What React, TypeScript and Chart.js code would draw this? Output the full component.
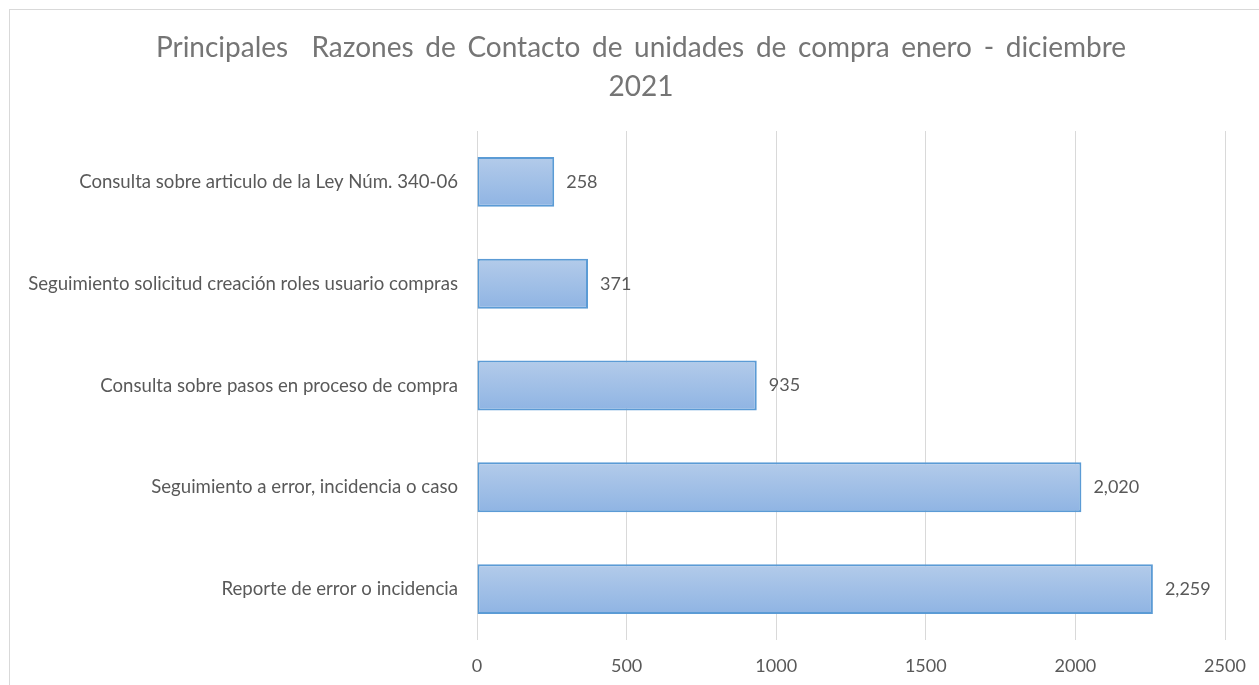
import React, { useEffect, useRef } from "react";
import { Chart, registerables } from "chart.js";

Chart.register(...registerables);

const categories = [
  "Consulta sobre articulo de la Ley Núm. 340-06",
  "Seguimiento solicitud creación roles usuario compras",
  "Consulta sobre pasos en proceso de compra",
  "Seguimiento a error, incidencia o caso",
  "Reporte de error o incidencia",
];
const values = [258, 371, 935, 2020, 2259];
const titleLines = [
  "Principales  Razones de Contacto de unidades de compra enero - diciembre",
  "2021",
];
const xMin = 0;
const xMax = 2500;
const xStep = 500;

const FONT = "Lato, 'Noto Sans', sans-serif";
const BAR_PCT = 0.49;
const TITLE_SIZE = 28;
const TITLE_LH = 39.2;
const TITLE_PAD_TOP = 18;

const valueLabels = {
  id: "valueLabels",
  afterDatasetsDraw(chart: any) {
    const { ctx } = chart;
    const meta = chart.getDatasetMeta(0);
    ctx.save();
    ctx.font = `18px ${FONT}`;
    ctx.fillStyle = "#595959";
    ctx.textAlign = "left";
    ctx.textBaseline = "middle";
    meta.data.forEach((el: any, i: number) => {
      ctx.fillText(values[i].toLocaleString("en-US"), el.x + 12, el.y);
    });
    ctx.restore();
  },
};

const spacedTitle = {
  id: "spacedTitle",
  afterDraw(chart: any) {
    const { ctx } = chart;
    ctx.save();
    ctx.font = `${TITLE_SIZE}px ${FONT}`;
    ctx.fillStyle = "#757575";
    ctx.textAlign = "center";
    ctx.textBaseline = "middle";
    (ctx as any).wordSpacing = "4.5px";
    titleLines.forEach((line, i) => {
      ctx.fillText(line, chart.width / 2, TITLE_PAD_TOP + TITLE_LH * (i + 0.5));
    });
    ctx.restore();
  },
};

export default function App() {
  const ref = useRef<HTMLCanvasElement | null>(null);
  useEffect(() => {
    if (!ref.current) return;
    const chart = new Chart(ref.current, {
      type: "bar",
      data: {
        labels: categories,
        datasets: [
          {
            data: values,
            backgroundColor: (c: any) => {
              const ch = c.chart;
              const y = ch.scales && ch.scales.y;
              if (!ch.chartArea || !y || c.dataIndex === undefined) return "#a0bfe7";
              const band = (y.bottom - y.top) / categories.length;
              const cy = y.getPixelForValue(c.dataIndex);
              const h = (band * BAR_PCT) / 2;
              const g = ch.ctx.createLinearGradient(0, cy - h, 0, cy + h);
              g.addColorStop(0, "#b3cbea");
              g.addColorStop(1, "#8fb4e3");
              return g;
            },
            borderColor: "#5b9bd5",
            borderWidth: 2,
            borderSkipped: false,
            categoryPercentage: 1,
            barPercentage: BAR_PCT,
          },
        ],
      },
      options: {
        indexAxis: "y",
        animation: false,
        responsive: false,
        maintainAspectRatio: false,
        layout: { padding: { left: 0, right: 47, top: 0, bottom: 0 } },
        plugins: {
          legend: { display: false },
          tooltip: { enabled: false },
          title: {
            display: true,
            text: titleLines,
            color: "rgba(0,0,0,0)",
            font: { family: FONT, size: TITLE_SIZE, weight: "normal", lineHeight: `${TITLE_LH}px` },
            padding: { top: TITLE_PAD_TOP, bottom: 24.6 },
          },
        },
        scales: {
          x: {
            min: xMin,
            max: xMax,
            ticks: {
              stepSize: xStep,
              color: "#595959",
              font: { family: FONT, size: 18 },
              padding: 15,
              callback: (v: any) => String(v),
            },
            grid: { color: "#d9d9d9", lineWidth: 1, drawTicks: false },
            border: { display: false },
            afterFit: (s: any) => {
              s.height = 46;
            },
          },
          y: {
            ticks: {
              color: "#595959",
              font: { family: FONT, size: 18.6 },
              padding: 19,
            },
            grid: { display: false, drawTicks: false },
            border: { display: false },
            afterFit: (s: any) => {
              s.width = 467;
            },
          },
        },
      },
      plugins: [valueLabels, spacedTitle],
    });
    return () => chart.destroy();
  }, []);
  return (
    <div style={{ position: "fixed", inset: 0, overflow: "hidden", background: "#fff" }}>
      <div
        style={{
          position: "absolute",
          left: 9,
          top: 9,
          width: 1300,
          height: 720,
          border: "1px solid #d9d9d9",
          boxSizing: "border-box",
        }}
      >
        <canvas ref={ref} width={1262} height={676} style={{ display: "block" }} />
      </div>
    </div>
  );
}
